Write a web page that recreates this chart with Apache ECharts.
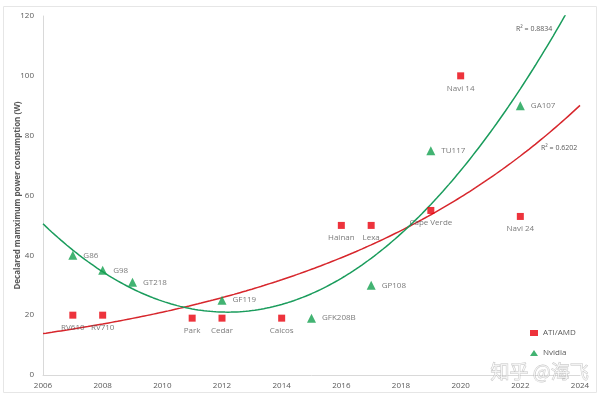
<!DOCTYPE html>
<html>
<head>
<meta charset="utf-8">
<script src="https://cdn.jsdelivr.net/npm/echarts@6/dist/echarts.min.js"></script>
<style>
  html, body { margin: 0; padding: 0; background: #fff; }
  #chart { width: 600px; height: 398px; }
</style>
</head>
<body>
<div id="chart"></div>
<script>
// ATI/AMD parts
const amdNames = ['RV610', 'RV710', 'Park', 'Cedar', 'Caicos', 'Hainan', 'Lexa', 'Cape Verde', 'Navi 14', 'Navi 24']
const amdYears = [2007, 2008, 2011, 2012, 2014, 2016, 2017, 2019, 2020, 2022]
const amdWatts = [20, 20, 19, 19, 19, 50, 50, 55, 100, 53]

// Nvidia parts
const nvNames = ['G86', 'G98', 'GT218', 'GF119', 'GFK208B', 'GP108', 'TU117', 'GA107']
const nvYears = [2007, 2008, 2009, 2012, 2015, 2017, 2019, 2022]
const nvWatts = [40, 35, 31, 25, 19, 30, 75, 90]

const xTicks = [2006, 2024, 2]
const yTicks = [0, 120, 20]

// exponential fit (Excel-style trendline) on the AMD points
function expFit (xs, ys) {
  const n = xs.length
  const ly = ys.map(v => Math.log(v))
  const mx = xs.reduce((a, b) => a + b, 0) / n
  const my = ly.reduce((a, b) => a + b, 0) / n
  let sxy = 0, sxx = 0
  xs.forEach((x, i) => { sxy += (x - mx) * (ly[i] - my); sxx += (x - mx) * (x - mx) })
  const b = sxy / sxx
  const a = my - b * mx
  return x => Math.exp(a + b * x)
}

// 2nd order polynomial fit on the Nvidia points
function polyFit (xs, ys) {
  const t = xs.map(x => x - 2006)
  let s0 = t.length, s1 = 0, s2 = 0, s3 = 0, s4 = 0, y0 = 0, y1 = 0, y2 = 0
  t.forEach((v, i) => {
    s1 += v; s2 += v * v; s3 += v * v * v; s4 += v * v * v * v
    y0 += ys[i]; y1 += v * ys[i]; y2 += v * v * ys[i]
  })
  const m = [[s0, s1, s2, y0], [s1, s2, s3, y1], [s2, s3, s4, y2]]
  for (let i = 0; i < 3; i++) {
    for (let j = i + 1; j < 3; j++) {
      const f = m[j][i] / m[i][i]
      for (let k = i; k < 4; k++) m[j][k] -= f * m[i][k]
    }
  }
  const c = m[2][3] / m[2][2]
  const b = (m[1][3] - m[1][2] * c) / m[1][1]
  const a = (m[0][3] - m[0][1] * b - m[0][2] * c) / m[0][0]
  return x => a + b * (x - 2006) + c * (x - 2006) * (x - 2006)
}

const amdTrend = expFit(amdYears, amdWatts)
const nvTrend = polyFit(nvYears, nvWatts)
const amdLine = []
const nvLine = []
for (let x = 2006; x <= 2024.001; x += 0.1) {
  amdLine.push([x, amdTrend(x)])
  nvLine.push([x, nvTrend(x)])
}

const red = '#e8000b'
const green = '#13a04f'
const labelStyle = { color: '#595959', fontSize: 8, fontFamily: 'Open Sans' }

const chart = echarts.init(document.getElementById('chart'))

chart.setOption({
  animation: false,
  backgroundColor: '#fff',
  grid: { left: 43, right: 20, top: 16, bottom: 23, outerBoundsMode: 'none' },
  legend: {
    orient: 'vertical',
    left: 525,
    top: 324,
    itemGap: 12,
    itemWidth: 8,
    itemHeight: 6,
    textStyle: { color: '#595959', fontSize: 8, fontFamily: 'Open Sans' },
    data: [
      { name: 'ATI/AMD', icon: 'rect' },
      { name: 'Nvidia', icon: 'triangle', itemStyle: { color: green } }
    ]
  },
  xAxis: {
    type: 'value',
    min: xTicks[0],
    max: xTicks[1],
    interval: xTicks[2],
    axisLine: { lineStyle: { color: '#d9d9d9' } },
    axisTick: { show: false },
    splitLine: { show: false },
    axisLabel: { formatter: v => String(v), color: '#595959', fontSize: 8, fontFamily: 'Open Sans', margin: 7 }
  },
  yAxis: {
    type: 'value',
    min: yTicks[0],
    max: yTicks[1],
    interval: yTicks[2],
    name: 'Decalared mamximum power consumption (W)',
    nameLocation: 'middle',
    nameGap: 21,
    nameMoveOverlap: false,
    nameTextStyle: { color: '#595959', fontSize: 8, fontWeight: 'bold', fontFamily: 'Open Sans' },
    axisLine: { show: true, lineStyle: { color: '#d9d9d9' } },
    axisTick: { show: false },
    splitLine: { show: false },
    axisLabel: { color: '#595959', fontSize: 8, fontFamily: 'Open Sans', margin: 9 }
  },
  series: [
    {
      name: 'amdTrend',
      type: 'line',
      data: amdLine,
      showSymbol: false,
      silent: true,
      lineStyle: { color: '#d7262c', width: 1.5 },
      z: 1
    },
    {
      name: 'nvTrend',
      type: 'line',
      data: nvLine,
      showSymbol: false,
      silent: true,
      clip: true,
      lineStyle: { color: '#1a9c5c', width: 1.5 },
      z: 1
    },
    {
      name: 'ATI/AMD',
      type: 'scatter',
      symbol: 'rect',
      symbolSize: 7,
      itemStyle: { color: red },
      data: amdYears.map((x, i) => ({ value: [x, amdWatts[i]], name: amdNames[i] })),
      label: { show: true, position: 'bottom', distance: 5, formatter: p => p.name, ...labelStyle },
      z: 3
    },
    {
      name: 'Nvidia',
      type: 'scatter',
      symbol: 'triangle',
      symbolSize: 9,
      itemStyle: { color: green },
      data: nvYears.map((x, i) => ({ value: [x, nvWatts[i]], name: nvNames[i] })),
      label: { show: true, position: 'right', distance: 6, formatter: p => p.name, ...labelStyle },
      z: 3
    }
  ],
  graphic: [
    {
      type: 'rect',
      shape: { x: 3.5, y: 6.5, width: 593, height: 386 },
      style: { fill: 'none', stroke: '#e6e6e6', lineWidth: 1 },
      silent: true,
      z: -1
    },
    {
      type: 'text',
      left: 516,
      top: 25,
      style: { text: 'R² = 0.8834', fill: '#595959', fontSize: 7, fontFamily: 'Open Sans' }
    },
    {
      type: 'text',
      left: 541,
      top: 144,
      style: { text: 'R² = 0.6202', fill: '#595959', fontSize: 7, fontFamily: 'Open Sans' }
    },
    {
      type: 'text',
      left: 490,
      top: 362,
      style: {
        text: '知乎 @海飞',
        fill: 'rgba(255,255,255,0.6)',
        stroke: 'rgba(120,120,120,0.45)',
        lineWidth: 0.8,
        fontSize: 19,
        fontFamily: 'Noto Sans CJK SC'
      },
      z: 10
    }
  ]
})
</script>
</body>
</html>
